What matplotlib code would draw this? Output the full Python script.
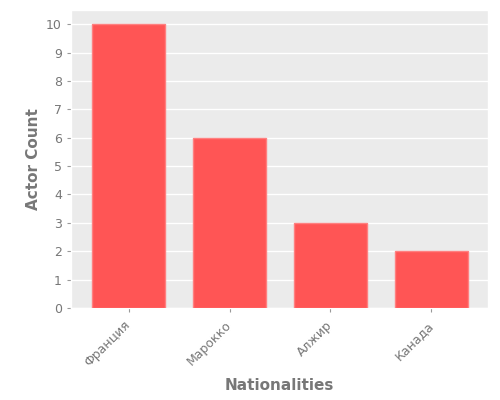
import matplotlib
matplotlib.use("Agg")
import matplotlib.pyplot as plt
import matplotlib.transforms as mtransforms

plt.style.use("ggplot")

countries = ["Франция", "Марокко", "Алжир", "Канада"]
actor_counts = [10, 6, 3, 2]

fig, ax = plt.subplots(figsize=(5, 4), dpi=100)
ax.set_facecolor("#EBEBEB")
ax.bar(range(len(countries)), actor_counts, width=0.72, color="#FF5555",
       edgecolor="#FF8080", linewidth=1, zorder=3)
ax.set_xticks(range(len(countries)))
ax.set_xticklabels(countries, rotation=45, ha="right", va="center",
                   rotation_mode="anchor", color="#777777", fontsize=9)
# nudge rotated labels a little to the right
shift = mtransforms.ScaledTranslation(5 / 72, 0, fig.dpi_scale_trans)
for lbl in ax.get_xticklabels():
    lbl.set_transform(lbl.get_transform() + shift)
ax.set_yticks(range(0, 11))
ax.tick_params(axis="both", colors="#999999", labelcolor="#777777", labelsize=9,
               length=3, width=0.8)
ax.tick_params(axis="x", pad=8)
ax.grid(False, axis="x")
ax.grid(True, axis="y", color="white", linewidth=1)
ax.set_xlim(-0.57, 3.56)
ax.set_ylim(0, 10.5)
ax.set_xlabel("Nationalities", fontsize=11, fontweight="bold", color="#777777", labelpad=6)
ax.set_ylabel("Actor Count", fontsize=11, fontweight="bold", color="#777777")

fig.subplots_adjust(left=0.142, right=0.976, top=0.975, bottom=0.23)
fig.savefig("out.png", dpi=100)
